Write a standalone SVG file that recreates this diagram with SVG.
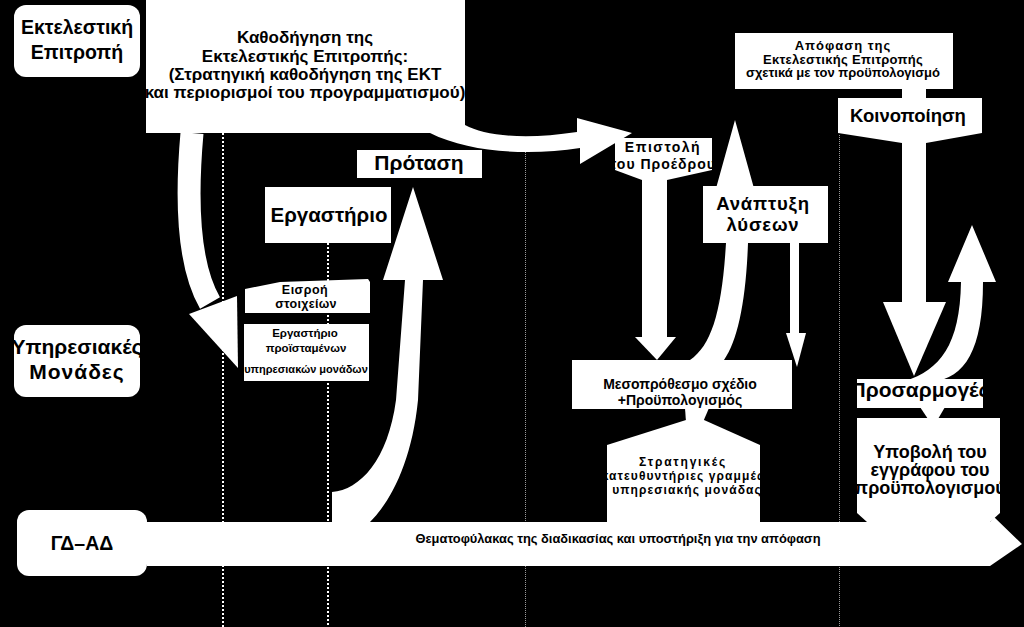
<svg xmlns="http://www.w3.org/2000/svg" width="1024" height="627" viewBox="0 0 1024 627">
<style>
.w{fill:#fff;stroke:none}
.t{font-family:"Liberation Sans",Arial,sans-serif;font-weight:bold;fill:#000;text-anchor:middle}
.dot{stroke:#fff;stroke-width:2;stroke-dasharray:2 2;fill:none}
.gdot{stroke:#9a9a9a;stroke-width:1;stroke-dasharray:1 1;fill:none}
</style>
<rect x="0" y="0" width="1024" height="627" fill="#000"/>
<g id="gridlines">
<line class="dot" x1="223" y1="133" x2="223" y2="627"/>
<line class="dot" x1="328" y1="243" x2="328" y2="627"/>
<line class="gdot" x1="525.5" y1="150" x2="525.5" y2="627"/>
<line class="gdot" x1="839.5" y1="135" x2="839.5" y2="627"/>
</g>
<g id="connectors">
<path d="M192,133 C186,200 188,265 210,303" stroke="#fff" stroke-width="23" fill="none"/>
<polygon class="w" points="189,314 237,296 238,368"/>
<path class="w" d="M430,133 L465,133 L465,125 C485,136 525,140 577,132 L577,118 L632,133 L580,164 L580,148 C530,156 470,153 430,133 Z"/>
<path class="w" d="M332,522 L332,492 C360,490 388,460 396,400 L405,280 L383,280 L413,187 L443,280 L423,280 L418,400 C412,460 392,500 370,522 Z"/>
<rect class="w" x="642" y="178" width="25" height="160"/>
<polygon class="w" points="635,337 676,337 657,360"/>
<path class="w" d="M690,360 C712,345 722,310 726,243 L726,210 L710,210 L735,120 L760,210 L748,210 L748,243 C746,300 738,340 724,360 Z"/>
<rect class="w" x="790" y="243" width="9" height="91"/>
<polygon class="w" points="786,333 806,333 797,367"/>
<polygon class="w" points="685,408 709,408 703,422 686,422"/>
<rect class="w" x="902" y="88" width="24" height="11"/>
<rect class="w" x="902" y="140" width="24" height="164"/>
<polygon class="w" points="883,302 946,302 914,376"/>
<path class="w" d="M905,381 C940,370 960,345 961,282 L948,282 L972,225 L996,282 L983,282 C983,350 965,378 932,382 Z"/>
<polygon class="w" points="920,407 945,407 938,419 928,419"/>
<path class="w" d="M147,522 L990,522 L994,517 L1022,544 L990,566 L147,566 Z"/>
<text class="t" x="618" y="543" font-size="13" textLength="405" lengthAdjust="spacingAndGlyphs">Θεματοφύλακας της διαδικασίας και υποστήριξη για την απόφαση</text>
</g>
<g id="exec-committee">
<rect class="w" x="14" y="5" width="126" height="72" rx="12"/>
<text class="t" x="77" y="34" font-size="19.5">Εκτελεστική</text>
<text class="t" x="77" y="59" font-size="19.5">Επιτροπή</text>
</g>
<g id="service-units">
<rect class="w" x="14" y="325" width="126" height="72" rx="12"/>
<text class="t" x="77" y="354" font-size="21">Υπηρεσιακές</text>
<text class="t" x="77" y="379" font-size="21" letter-spacing="1">Μονάδες</text>
</g>
<g id="gd-ad">
<rect class="w" x="17" y="510" width="130" height="66" rx="12"/>
<text class="t" x="82" y="550" font-size="19.5">ΓΔ–ΑΔ</text>
</g>
<g id="guidance">
<rect class="w" x="146" y="0" width="319" height="133"/>
<text class="t" x="305" y="43" font-size="17">Καθοδήγηση της</text>
<text class="t" x="305" y="62" font-size="17">Εκτελεστικής Επιτροπής:</text>
<text class="t" x="305" y="80" font-size="17">(Στρατηγική καθοδήγηση της ΕΚΤ</text>
<text class="t" x="305" y="98" font-size="17">και περιορισμοί του προγραμματισμού)</text>
</g>
<g id="proposal">
<rect class="w" x="357" y="150" width="125" height="28"/>
<text class="t" x="419" y="170" font-size="21">Πρόταση</text>
</g>
<g id="workshop">
<rect class="w" x="265" y="187" width="126" height="56"/>
<text class="t" x="329" y="222" font-size="20.5">Εργαστήριο</text>
</g>
<g id="data-input">
<polygon class="w" points="245,289 280,282 368,279 370,282 370,313 245,313"/>
<text class="t" x="305" y="294" font-size="12.5" letter-spacing="0.5">Εισροή</text>
<text class="t" x="306" y="308" font-size="12.5" letter-spacing="0.3">στοιχείων</text>
</g>
<g id="heads-workshop">
<rect class="w" x="244" y="324" width="125" height="57"/>
<text class="t" x="305" y="337" font-size="11.5">Εργαστήριο</text>
<text class="t" x="306" y="352" font-size="11.5">προϊσταμένων</text>
<text class="t" x="306" y="373" font-size="11">υπηρεσιακών μονάδων</text>
</g>
<g id="president-letter">
<polygon class="w" points="615,138 712,138 712,170 667,180 642,180 615,170"/>
<text class="t" x="663" y="152" font-size="14" letter-spacing="1.5">Επιστολή</text>
<text class="t" x="663" y="169" font-size="14" letter-spacing="1">του Προέδρου</text>
</g>
<g id="solutions">
<rect class="w" x="703" y="186" width="125" height="57"/>
<text class="t" x="763" y="210" font-size="18.5" letter-spacing="0.8">Ανάπτυξη</text>
<text class="t" x="763" y="231" font-size="18.5" letter-spacing="0.8">λύσεων</text>
</g>
<g id="medium-term-plan">
<rect class="w" x="572" y="360" width="220" height="49"/>
<text class="t" x="680" y="389" font-size="14">Μεσοπρόθεσμο σχέδιο</text>
<text class="t" x="680" y="405" font-size="14">+Προϋπολογισμός</text>
</g>
<g id="strategic-guidelines">
<polygon class="w" points="607,522 607,445 686,420 704,420 760,445 760,522"/>
<text class="t" x="683" y="466" font-size="12" letter-spacing="1.8">Στρατηγικές</text>
<text class="t" x="683" y="480" font-size="12" letter-spacing="1.1">κατευθυντήριες γραμμές</text>
<text class="t" x="687" y="494" font-size="12" letter-spacing="1.1">υπηρεσιακής μονάδας</text>
</g>
<g id="decision">
<rect class="w" x="735" y="33" width="218" height="56"/>
<text class="t" x="843" y="50" font-size="13" letter-spacing="1">Απόφαση της</text>
<text class="t" x="843" y="64" font-size="13" letter-spacing="0.3">Εκτελεστικής Επιτροπής</text>
<text class="t" x="843" y="77" font-size="13">σχετικά με τον προϋπολογισμό</text>
</g>
<g id="notification">
<polygon class="w" points="838,98 982,98 982,133 926,143 902,143 838,133"/>
<text class="t" x="908" y="122" font-size="18.5">Κοινοποίηση</text>
</g>
<g id="adjustments">
<rect class="w" x="857" y="379" width="126" height="29"/>
<text class="t" x="920" y="397" font-size="21">Προσαρμογές</text>
</g>
<g id="submission">
<polygon class="w" points="857,418 1000,418 1000,513 990,522 867,522 857,513"/>
<text class="t" x="930" y="458" font-size="18">Υποβολή του</text>
<text class="t" x="930" y="476" font-size="18">εγγράφου του</text>
<text class="t" x="930" y="494" font-size="18">προϋπολογισμού</text>
</g>
</svg>
